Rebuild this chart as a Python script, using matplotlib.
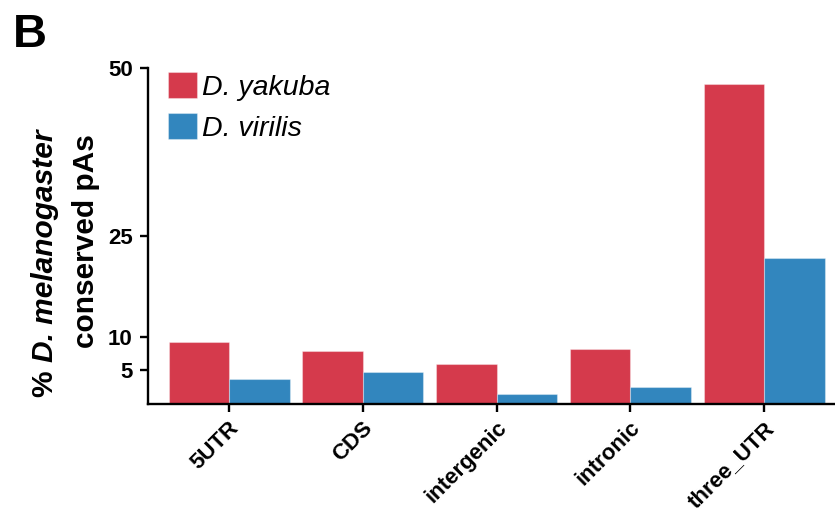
# -*- coding: utf-8 -*-
""" Conserved polyadenylation sites per genomic region, two species side by side. """
import matplotlib
matplotlib.use("Agg")
from matplotlib import pyplot as plt
from matplotlib.transforms import ScaledTranslation
import numpy as np

regions = ["5UTR", "CDS", "intergenic", "intronic", "three_UTR"]
yakuba = [9.2, 7.9, 5.9, 8.2, 47.6]
virilis = [3.7, 4.7, 1.5, 2.6, 21.8]
species = ["D. yakuba", "D. virilis"]
y_ticks = [5, 10, 25, 50]

RED = "#D53A4C"
BLUE = "#3286BE"

plt.rcParams["font.family"] = ["Liberation Sans", "DejaVu Sans"]
plt.rcParams["font.weight"] = "bold"

W, H = 835, 515
fig = plt.figure(figsize=(W / 100, H / 100), dpi=100)
ax = fig.add_axes([148 / W, (H - 404) / H, (835 - 148) / W, (404 - 68) / H])

x = np.arange(len(regions))
width = 0.452
edge = (1, 1, 1, 0.35)
ax.bar(x - width / 2, yakuba, width, color=RED, edgecolor=edge, linewidth=0.8,
       label=species[0])
ax.bar(x + width / 2, virilis, width, color=BLUE, edgecolor=edge, linewidth=0.8,
       label=species[1])

ax.set_xlim(-0.606, 4.53)
ax.set_ylim(0, 50)
ax.set_yticks(y_ticks)
ax.set_xticks(x)
ax.set_xticklabels([])

for side in ["top", "right"]:
    ax.spines[side].set_visible(False)
for side in ["left", "bottom"]:
    ax.spines[side].set_linewidth(1.7)
ax.tick_params(axis="both", length=6, width=1.7)
ax.tick_params(axis="y", pad=5, labelsize=16)

# rotated category labels, nudged a little right of the ticks
shift = ScaledTranslation(7 / 100, -21 / 100, fig.dpi_scale_trans)
for xi, name in zip(x, regions):
    ax.text(xi, 0, name, transform=ax.get_xaxis_transform() + shift,
            rotation=45, rotation_mode="anchor", ha="right", va="center",
            fontsize=16, fontweight="bold")

# y label: two rotated lines, species name in bold italic
fig.canvas.draw()
renderer = fig.canvas.get_renderer()
lab_fs = 21.5
pct = fig.text(45 / W, 0, "% ", rotation=90, ha="center",
               va="bottom", fontsize=lab_fs, fontweight="bold")
sp = fig.text(45 / W, 0, "D. melanogaster", rotation=90, ha="center",
              va="bottom", fontsize=lab_fs, fontweight="bold", fontstyle="italic")
h1 = pct.get_window_extent(renderer).height
h2 = sp.get_window_extent(renderer).height
y0 = (H - 263) - (h1 + h2) / 2
pct.set_y(y0 / H)
sp.set_y((y0 + h1) / H)
fig.text(86 / W, 1 - 241 / H, "conserved pAs", rotation=90,
         ha="center", va="center", fontsize=lab_fs, fontweight="bold")

# panel letter
fig.text(13 / W, 1 - 47 / H, "B", fontsize=34, fontweight="bold",
         ha="left", va="baseline")

leg_fs = 20.5
px_em = leg_fs * 100 / 72
leg = ax.legend(loc="upper left", bbox_to_anchor=(168 / W, 1 - 72 / H),
                bbox_transform=fig.transFigure, frameon=False, borderpad=0,
                borderaxespad=0, handlelength=29 / px_em, handleheight=29 / px_em,
                handletextpad=0.19, labelspacing=0.45,
                prop={"size": leg_fs, "style": "italic", "weight": "normal"})

fig.savefig("out.png", dpi=100)
